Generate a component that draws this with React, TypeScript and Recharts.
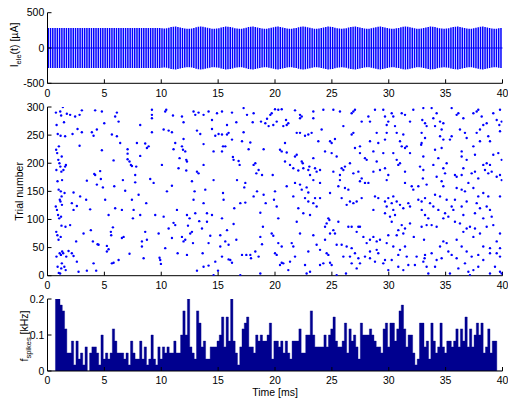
import React from 'react';
import { ComposedChart, Bar, Area, Scatter, XAxis, YAxis, ReferenceLine } from 'recharts';

// ---------------- data ----------------
const TIME_TICKS = [0, 5, 10, 15, 20, 25, 30, 35, 40];
const CURRENT_TICKS = [-500, 0, 500];
const TRIAL_TICKS = [0, 50, 100, 150, 200, 250, 300];
const RATE_TICKS = [0, 0.1, 0.2];

// biphasic stimulation pulses, one every 0.2 ms; peak amplitude (µA) of each pulse
const PULSE_PERIOD_MS = 0.2;
const pulseAmplitudes = [
  285, 285, 285, 285, 285, 285, 285, 285, 285, 285,
  285, 285, 285, 285, 285, 285, 285, 285, 285, 285,
  285, 285, 285, 285, 285, 285, 285, 285, 285, 285,
  285, 285, 285, 285, 285, 285, 285, 285, 285, 285,
  285, 285, 285, 285, 285, 285, 285, 285, 285, 285,
  278, 276, 280, 287, 296, 302, 303, 299, 292, 284,
  277, 273, 273, 277, 284, 293, 300, 303, 301, 295,
  287, 279, 274, 272, 275, 281, 289, 297, 303, 302,
  297, 289, 281, 275, 272, 274, 280, 288, 296, 302,
  303, 298, 290, 282, 276, 273, 274, 279, 287, 295,
  301, 303, 299, 292, 284, 277, 273, 273, 278, 285,
  293, 300, 303, 301, 294, 286, 279, 274, 272, 276,
  283, 291, 298, 303, 302, 296, 288, 280, 275, 272,
  275, 281, 289, 297, 302, 303, 298, 290, 282, 276,
  273, 274, 279, 287, 295, 301, 303, 299, 292, 284,
  277, 273, 273, 278, 285, 293, 300, 303, 301, 294,
  286, 279, 274, 272, 276, 283, 291, 298, 303, 302,
  296, 288, 280, 275, 272, 275, 281, 289, 297, 302,
  303, 298, 290, 282, 276, 273, 274, 279, 287, 295,
  301, 303, 299, 292, 284, 277, 273, 273, 278, 285,
];

// PSTH: spike rate (kHz) per 0.2 ms bin, bins centred on 0, 0.2, ..., 40 ms
const BIN_MS = 0.2;
const spikeRate = [
  0, 0, 0, 0, 0.2, 0.2, 0.183, 0.167, 0.117,
  0.05, 0.05, 0.083, 0.017, 0.083, 0.033, 0.05, 0.017, 0.067, 0,
  0.05, 0.067, 0.067, 0.05, 0.017, 0.1, 0.033, 0.05, 0.033, 0.05,
  0.117, 0.083, 0.05, 0.05, 0.05, 0.033, 0.05, 0.017, 0.083, 0.05,
  0.033, 0.033, 0.083, 0.033, 0.067, 0.017, 0.033, 0.1, 0.033, 0.017,
  0.067, 0.033,
  0.067, 0.05, 0.067, 0.05, 0.05, 0.083, 0.05, 0.05, 0.1, 0.167,
  0.1, 0.2, 0.067, 0.05, 0.033, 0.167, 0.133, 0.067, 0.083, 0.033,
  0.033, 0.067, 0.067, 0.067, 0.083, 0.1, 0.15, 0.067, 0.15, 0.083,
  0.2, 0.083, 0.05, 0.017, 0.067, 0.117, 0.133, 0.15, 0.067, 0.067,
  0.05, 0.1, 0.083, 0.1, 0.083, 0.083, 0.1, 0.133, 0.033, 0.083,
  0.083, 0.067, 0.083, 0.05, 0.083, 0.05, 0.033, 0.083, 0.083, 0.083,
  0.117, 0.05, 0.05, 0.1, 0.1, 0.167, 0.1, 0.067, 0.067, 0.067,
  0.067, 0.1, 0.067, 0.1, 0.117, 0.15, 0.083, 0.067, 0.067, 0.083,
  0.133, 0.05, 0.117, 0.083, 0.1, 0.067, 0.033, 0.133, 0.1, 0.1,
  0.1, 0.117, 0.1, 0.083, 0.067, 0.067, 0.05, 0.117, 0.133, 0.067, 0.133,
  0.133, 0.083, 0.117, 0.167, 0.183, 0.117, 0.067, 0.1, 0.1, 0.05,
  0.017, 0.033, 0.133, 0.133, 0.067, 0.083, 0.033, 0.133, 0.083, 0.05,
  0.067, 0.133, 0.067, 0.05, 0.083, 0.083, 0.067, 0.083, 0.117, 0.067,
  0.117, 0.083, 0.15, 0.067, 0.117, 0.067, 0.1, 0.133, 0.1, 0.133,
  0.05, 0.067, 0.117, 0.05, 0.083, 0.083, 0, 0, 0,
];

// raster: [time (ms), trial number]
const raster0to10 = [
  [0.74,290],[0.8,268],[0.9,252],[1.0,230],[0.76,224],[0.85,218],[0.95,206],[1.05,200],[0.78,188],[0.88,168],[0.98,153],[1.08,135],[0.73,123],[0.83,117],[0.93,108],[1.03,102],[0.77,78],[0.87,72],[0.97,64],[1.07,40],[0.79,34],[0.89,16],[0.99,5],
  [1.12,292],[1.2,285],[1.15,249],[1.25,212],[1.13,194],[1.22,185],[1.28,170],[1.17,150],[1.24,141],[1.14,132],[1.27,126],[1.19,105],[1.23,89],[1.16,69],[1.29,43],[1.18,37],[1.26,22],[1.21,13],[1.11,4],
  [1.35,300],[1.45,273],[1.55,248],[1.62,197],[1.4,188],[1.5,147],[1.58,87],[1.38,40],[1.65,34],[1.48,16],[1.6,10],
  [1.7,288],[1.99,286],[2.2,252],[2.43,283],[2.64,261],[2.82,286],[2.82,231],[2.29,148],[2.14,129],[2.29,117],[2.58,124],[2.87,141],[1.99,90],[2.52,61],[2.14,40],[2.29,35],[2.58,25],[2.73,7],[1.85,44],[1.55,194],
  [3.02,294],[3.02,255],[3.46,169],[3.4,135],[3.75,118],[3.81,81],[3.9,255],[4.05,249],[3.99,61],[4.05,22],[4.19,294],[4.34,260],[4.19,179],[4.11,181],[4.34,162],[4.4,56],[4.49,55],[4.28,9],[3.17,75],[3.46,9],
  [4.78,292],[4.99,271],[4.78,223],[4.69,172],[4.87,157],[4.63,186],[5.07,135],[5.22,53],[5.22,43],[5.37,47],[5.6,72],[5.66,22],[5.81,23],[5.57,78],[5.75,86],[5.37,108],[5.66,251],[5.81,205],[5.87,159],[5.95,120],
  [6.1,290],[6.25,274],[6.1,248],[6.39,236],[5.95,283],[6.63,170],[6.83,151],[6.54,117],[6.69,69],[6.54,67],[6.25,28],[7.04,225],[7.04,217],[7.21,203],[7.21,39],[7.04,207],
  [7.33,197],[7.71,179],[7.71,166],[7.86,236],[7.42,135],[7.51,102],[7.57,117],[8.01,144],[8.15,268],[8.15,213],[8.3,61],[8.3,52],[8.45,31],[8.59,235],[8.59,78],[8.15,108],[8.74,227],[8.68,129],[7.42,195],[7.8,194],
  [8.89,230],[9.18,295],[9.18,286],[9.18,280],[9.18,255],[9.33,165],[9.47,108],[9.77,75],[9.85,32],[9.91,28],[9.97,21],[8.74,64],[9.03,172],
];
const raster10to20 = [
  [10.06,197],[10.21,260],[10.21,105],
  [10.35,292],[10.44,295],[10.65,258],[10.35,49],[10.5,150],[10.94,255],[10.94,160],[11.03,285],[11.08,225],[11.23,236],[11.38,117],[11.44,40],[11.61,209],[11.52,191],[10.65,84],[11.08,94],[10.94,67],[11.23,90],
  [11.82,283],[11.96,273],[11.96,243],[11.82,230],[11.91,224],[12.11,221],[12.2,206],[12.26,203],[12.2,187],[12.26,108],[11.82,69],[11.96,61],[12.11,64],[12.26,37],[12.35,89],[12.55,75],[12.49,102],[12.7,168],[12.79,58],[12.84,292],[12.99,286],[13.14,258],[12.84,135],[12.99,111],[12.93,150],[13.14,185],[13.14,9],[12.7,78],
  [13.28,290],[13.43,252],[13.72,286],[13.72,234],[13.72,197],[13.87,153],[13.72,129],[14.02,111],[14.16,292],[14.16,58],[14.16,18],[14.46,277],[14.46,261],[14.6,221],[14.6,170],[13.28,182],[13.58,84],[13.64,40],[13.34,97],[13.72,16],[14.02,96],[14.31,71],[14.46,108],
  [14.75,249],[14.9,289],[15.04,252],[15.34,292],[15.34,251],[15.43,230],[15.34,221],[15.63,230],[15.78,251],[15.92,254],[15.78,268],[15.43,147],[15.48,135],[15.34,102],[15.19,72],[15.19,52],[15.63,61],[15.78,81],[15.92,55],[16.07,28],[14.75,25],[14.6,1],[14.99,9],[15.92,29],[15.34,34],
  [16.22,290],[16.6,273],[16.22,242],[16.36,206],[16.3,211],[16.42,120],[16.6,64],[16.8,204],[16.89,197],[16.95,129],[17.1,239],[17.1,37],[17.24,298],[17.24,255],[17.3,157],[17.39,165],[17.39,130],[16.22,23],[16.36,92],[16.66,170],[16.95,1],[17.48,37],
  [17.54,286],[17.68,225],[17.83,237],[18.04,273],[18.12,289],[18.12,197],[18.27,200],[18.36,182],[18.42,150],[18.56,188],[18.71,112],[18.77,274],[18.86,179],[19.0,225],[19.15,271],[19.3,279],[19.44,266],[19.59,286],[18.94,87],[18.71,69],[18.56,34],[18.86,56],[18.27,43],[17.83,37],[18.12,141],[17.89,31],[18.71,4],[19.0,144],[19.18,129],
  [19.71,289],[19.85,268],[19.8,179],[19.91,135],[19.71,75],[19.85,71],
];
const raster20to30 = [
  [20.0,296],[20.29,295],[20.59,296],[20.15,274],[20.73,266],[21.03,268],[20.97,277],[21.17,271],[20.88,236],[20.44,224],[20.59,221],[21.03,219],[20.0,150],[20.15,123],[20.29,58],[20.59,52],[20.0,40],[20.15,37],[20.59,23],[20.44,19],[20.73,22],[21.17,10],[21.32,25],[20.88,203],[21.03,159],[20.29,102],[21.32,197],
  [21.76,294],[22.2,286],[22.35,283],[22.2,280],[21.91,254],[22.2,254],[22.64,249],[22.93,251],[22.35,203],[21.91,215],[21.76,212],[21.61,191],[22.05,187],[22.49,191],[22.93,188],[23.02,194],[23.08,179],[21.76,165],[22.2,162],[22.35,153],[22.78,157],[22.93,148],[21.61,141],[22.05,120],[22.93,132],[22.64,138],[22.49,111],[23.08,108],[22.2,75],[21.47,58],[21.61,52],[21.76,34],[22.93,43],[22.64,19],[22.78,4],[23.08,7],[21.91,96],[22.44,200],
  [23.37,292],[24.25,295],[23.37,280],[24.1,260],[23.22,254],[23.81,239],[24.4,221],[24.98,236],[24.84,239],[23.37,209],[23.52,191],[23.96,188],[23.66,185],[23.37,170],[23.96,165],[23.52,138],[23.96,138],[23.66,123],[23.37,129],[24.69,102],[24.54,93],[24.78,99],[24.4,87],[24.84,75],[24.4,64],[24.54,40],[24.69,37],[24.25,22],[23.96,19],[24.84,23],[23.96,46],[23.37,72],[23.66,55],[24.84,147],
  [25.13,295],[25.71,292],[26.01,266],[25.27,243],[24.98,218],[25.42,212],[25.86,191],[26.01,188],[26.15,194],[25.71,170],[25.57,159],[26.15,156],[26.45,153],[25.86,138],[26.59,132],[26.3,126],[25.13,81],[25.27,75],[25.42,55],[25.86,55],[26.3,52],[26.59,200],[25.57,96],[26.59,34],[26.24,4],[25.42,1],[24.98,19],[25.71,179],[25.13,185],[26.45,87],[26.01,34],
  [27.03,295],[26.74,289],[26.89,292],[27.62,274],[28.21,283],[28.35,274],[26.89,254],[26.74,251],[27.03,227],[27.47,218],[27.91,209],[28.35,239],[28.06,206],[27.47,230],[27.62,173],[26.89,182],[27.33,185],[27.47,168],[28.21,165],[27.91,165],[26.89,129],[27.18,132],[27.62,138],[26.74,87],[27.18,78],[27.33,87],[27.47,87],[26.74,49],[28.06,58],[28.35,43],[27.03,40],[27.33,31],[27.47,22],[26.74,22],[27.77,69],[28.35,64],[27.91,34],[27.18,13],
  [28.79,295],[29.52,295],[29.67,283],[29.96,274],[29.82,268],[29.82,254],[28.94,254],[29.08,236],[28.65,221],[29.52,218],[29.67,242],[28.94,203],[28.65,185],[29.23,188],[29.67,191],[29.96,179],[29.82,170],[28.79,141],[29.08,138],[29.67,132],[29.82,123],[29.96,138],[28.65,117],[29.67,111],[28.65,69],[28.94,61],[29.23,64],[29.82,58],[29.96,72],[28.35,31],[28.79,25],[29.52,22],[29.96,10],[29.67,28],[28.94,46],[29.08,40],
];
const raster30to40 = [
  [30.11,105],
  [30.26,289],[30.4,283],[30.55,266],[30.7,254],[31.14,289],[31.43,286],[31.28,251],[30.99,239],[31.14,230],[31.43,227],[31.58,230],[30.4,218],[30.7,206],[30.99,200],[30.84,197],[31.43,185],[31.43,165],[30.4,141],[30.7,132],[30.26,129],[30.99,126],[31.28,120],[30.4,117],[30.55,108],[30.26,96],[30.84,81],[31.28,75],[31.43,84],[31.14,90],[30.7,72],[30.4,52],[30.84,37],[30.99,46],[31.43,52],[31.58,34],[31.28,10],[31.72,19],[30.26,28],[30.84,16],[31.72,129],
  [32.16,295],[33.04,298],[31.87,274],[32.95,277],[33.19,271],[33.33,266],[32.89,254],[33.19,245],[32.85,233],[32.89,236],[31.87,218],[33.04,212],[32.75,194],[33.04,188],[33.0,173],[32.02,159],[32.16,153],[32.6,159],[33.33,162],[33.19,138],[32.6,135],[32.89,132],[33.63,129],[32.9,117],[31.87,123],[33.19,108],[33.48,102],[31.87,93],[32.89,87],[33.33,90],[32.2,69],[33.1,64],[33.19,37],[32.45,34],[33.15,31],[33.04,25],[33.33,16],[33.48,4],[32.3,19],
  [33.77,298],[34.21,289],[33.92,280],[34.07,266],[34.51,274],[34.8,271],[34.65,260],[34.51,248],[34.8,242],[34.07,224],[34.65,227],[34.36,209],[33.92,197],[34.8,191],[34.95,182],[34.21,176],[34.65,168],[34.8,159],[34.07,144],[34.51,141],[35.09,135],[33.92,123],[34.36,117],[34.95,111],[34.8,102],[33.77,90],[34.21,87],[34.8,61],[34.51,52],[35.09,58],[35.24,43],[33.77,40],[34.21,28],[34.07,16],[34.65,31],[35.38,4],[35.24,105],[35.38,242],[35.09,200],
  [35.53,298],[35.97,286],[36.12,289],[36.56,280],[36.26,260],[36.7,254],[36.85,245],[35.53,248],[36.41,221],[36.41,212],[36.85,206],[36.56,191],[35.82,179],[35.97,176],[36.41,179],[37.0,165],[35.97,156],[36.41,153],[36.7,150],[35.53,123],[35.68,117],[36.41,123],[36.85,132],[36.56,108],[35.82,96],[36.26,93],[36.56,78],[36.85,84],[35.97,64],[36.41,52],[36.85,43],[35.53,37],[35.97,31],[36.12,13],[36.7,22],[37.0,7],[37.14,1],[35.82,135],
  [37.44,289],[37.73,292],[37.87,295],[38.17,283],[38.61,271],[39.19,289],[39.49,277],[39.78,295],[39.72,268],[39.93,274],[37.73,254],[38.02,260],[38.31,268],[38.75,248],[38.9,239],[39.78,257],[37.44,230],[38.02,239],[37.58,215],[38.31,197],[38.61,200],[38.9,197],[39.19,215],[39.63,218],[39.93,206],[37.29,182],[37.58,185],[37.87,173],[38.46,188],[38.75,182],[39.05,185],[39.49,176],[39.78,179],[39.93,170],[37.44,156],[37.87,141],[38.31,147],[38.75,141],[39.78,141],[37.73,129],[38.02,120],[38.61,123],[38.9,117],[39.05,105],[37.58,111],[38.31,102],[37.14,87],[37.58,84],[38.02,75],[38.61,87],[39.19,90],[39.78,75],[37.44,69],[38.31,52],[38.9,49],[39.49,61],[39.78,49],[37.29,34],[37.87,37],[38.31,28],[38.9,40],[39.78,34],[37.44,10],[37.87,16],[38.9,4],[39.78,7],[39.93,4],[39.34,16],[39.49,40],
];

// ---------------- derived tables ----------------
const pulseData = pulseAmplitudes.map((a, i) => ({ t: (i + 0.5) * PULSE_PERIOD_MS, range: [-a, a] }));
const histData = spikeRate.map((r, i) => ({ t: i * BIN_MS, rate: r }));
const rasterData = [...raster0to10, ...raster10to20, ...raster20to30, ...raster30to40].map(([t, trial]) => ({ t, trial }));

// ---------------- styling ----------------
const FONT = '"Liberation Sans", Arial, Helvetica, sans-serif';
const FS = 10.5;
const W = 508;
const H = 401;
const PLOT_LEFT = 47.5;
const PLOT_RIGHT = 502.5;
const YAXIS_W = 40;
const tickStyle = { fill: '#000', fontSize: FS, fontFamily: FONT };
const lineStyle = { stroke: '#000', strokeWidth: 1 };

function axes(yDomain: number[], yTicks: number[], xHeight: number, xLabel?: any) {
  return [
    <XAxis key="xb" dataKey="t" type="number" domain={[0, 40]} ticks={TIME_TICKS} interval={0}
      tickSize={-4} tickMargin={9.8} height={xHeight} axisLine={lineStyle} tickLine={lineStyle}
      tick={tickStyle} allowDataOverflow label={xLabel} />,
    <XAxis key="xt" xAxisId="top" orientation="top" type="number" domain={[0, 40]} ticks={TIME_TICKS}
      interval={0} tickSize={-4} height={0} tick={false} axisLine={lineStyle} tickLine={lineStyle} allowDataOverflow />,
    <YAxis key="yl" type="number" domain={yDomain} ticks={yTicks} interval={0} tickSize={-4} tickMargin={7.2}
      width={YAXIS_W} axisLine={lineStyle} tickLine={lineStyle} tick={tickStyle} allowDataOverflow />,
    <YAxis key="yr" yAxisId="right" orientation="right" type="number" domain={yDomain} ticks={yTicks}
      interval={0} tickSize={-4} width={0} tick={false} axisLine={lineStyle} tickLine={lineStyle} allowDataOverflow />,
  ];
}

const layer: React.CSSProperties = { position: 'absolute', left: 0, top: 0 };

const Dot = (props: any) => <circle cx={props.cx} cy={props.cy} r={1.2} fill="#0000ff" />;

export default function App() {
  const side = { left: PLOT_LEFT - YAXIS_W, right: W - PLOT_RIGHT };
  return (
    <div style={{ position: 'absolute', left: 0, top: 0, width: W, height: H, background: '#fff', fontFamily: FONT }}>
      {/* stimulus current */}
      <div style={layer}>
        <ComposedChart width={W} height={H} data={pulseData}
          margin={{ top: 12.7, bottom: H - 83.3 - 20, ...side }}>
          {axes([-500, 500], CURRENT_TICKS, 20)}
          <ReferenceLine y={0} stroke="#0000ff" strokeWidth={1} />
          <Bar dataKey="range" fill="#0000ff" barSize={1.5} isAnimationActive={false} />
        </ComposedChart>
      </div>
      {/* raster */}
      <div style={layer}>
        <ComposedChart width={W} height={H} data={rasterData}
          margin={{ top: 107, bottom: H - 275.7 - 20, ...side }}>
          {axes([0, 300], TRIAL_TICKS, 20)}
          <Scatter dataKey="trial" shape={Dot} isAnimationActive={false} />
        </ComposedChart>
      </div>
      {/* PSTH */}
      <div style={layer}>
        <ComposedChart width={W} height={H} data={histData}
          margin={{ top: 299, bottom: 0, ...side }}>
          {axes([0, 0.2], RATE_TICKS, 30, { value: 'Time [ms]', position: 'insideBottom', offset: 5.5, fill: '#000', fontSize: FS, fontFamily: FONT })}
          <Area dataKey="rate" type="step" baseValue={0} fill="#00008f" fillOpacity={1}
            stroke="#00008f" strokeWidth={0.4} dot={false} activeDot={false} isAnimationActive={false} />
        </ComposedChart>
      </div>
      {/* y axis titles */}
      <svg width={W} height={H} style={{ ...layer, pointerEvents: 'none' }}>
        <text transform="translate(18,45) rotate(-90)" textAnchor="middle" fontSize={FS} fontFamily={FONT} fill="#000">
          I<tspan dy={2.5} fontSize={7.5}>ele</tspan><tspan dy={-2.5}>(t) [µA]</tspan>
        </text>
        <text transform="translate(23,191.4) rotate(-90)" textAnchor="middle" fontSize={FS} fontFamily={FONT} fill="#000">
          Trial number
        </text>
        <text transform="translate(28,336) rotate(-90)" textAnchor="middle" fontSize={FS} fontFamily={FONT} fill="#000">
          f<tspan dy={2.5} fontSize={7.5}>spikes</tspan><tspan dy={-2.5}> [kHz]</tspan>
        </text>
      </svg>
    </div>
  );
}
